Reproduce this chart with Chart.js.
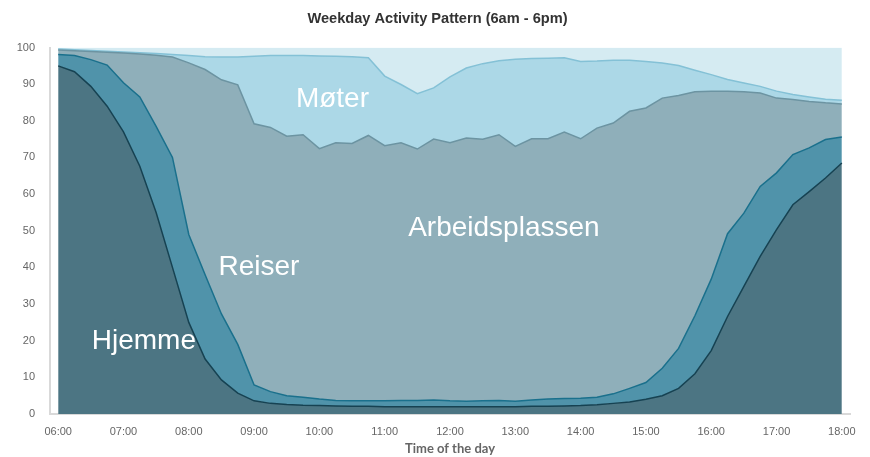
<!DOCTYPE html>
<html>
<head>
<meta charset="utf-8">
<script src="https://cdn.jsdelivr.net/npm/chart.js@4.4.1/dist/chart.umd.min.js"></script>
<style>
    html, body { margin: 0; padding: 0; background: #fff; }
    #wrap { width: 870px; height: 457px; }
</style>
</head>
<body>
<div id="wrap"><canvas id="chart" width="870" height="457"></canvas></div>
<script>
// hourly tick labels (data are every 15 minutes, 49 points)
const hourLabels = ["06:00", "07:00", "08:00", "09:00", "10:00", "11:00", "12:00",
    "13:00", "14:00", "15:00", "16:00", "17:00", "18:00"];

// share of people per activity (%), 06:00 .. 18:00 in 15 min steps
const hjemme = [95, 93.4, 89.4, 84, 77, 67.6, 55, 40, 25, 15, 9.3, 5.7, 3.6, 2.9, 2.6, 2.4, 2.3, 2.2, 2.1, 2.1,
    2.0, 2.0, 2.0, 2.0, 2.0, 2.0, 2.0, 2.0, 2.0, 2.1, 2.1, 2.2, 2.3, 2.5, 2.9, 3.3, 4.0, 5.0, 7.0, 11,
    17.3, 26.6, 34.8, 43, 50.3, 57.1, 60.7, 64.4, 68.5];

const reiser = [3.1, 4.4, 7.3, 11.2, 13.4, 18.9, 23.5, 30, 24, 23, 18, 13.3, 4.3, 3.2, 2.4, 2.2, 1.8, 1.5, 1.5, 1.5,
    1.6, 1.7, 1.7, 1.8, 1.6, 1.5, 1.6, 1.7, 1.5, 1.7, 2.0, 2.0, 2.0, 2.1, 2.6, 3.7, 4.6, 7.5, 10.9, 15.8,
    19.5, 22.6, 20, 19.1, 15.5, 13.7, 11.9, 10.5, 7.1];

const arbeidsplassen = [1.2, 1.3, 2.2, 3.5, 8.1, 11.7, 19.4, 27.4, 46.8, 56, 63.9, 70.8, 71.3, 72.1, 70.8, 71.6, 68.3, 70.3, 70.2, 72.4,
    69.6, 70.3, 68.6, 71.2, 70.4, 71.8, 71.4, 72.5, 69.5, 71.3, 71, 72.7, 70.8, 73.4, 73.9, 75.6, 74.9, 73.7, 69, 61.1,
    51.3, 38.9, 33.1, 25.5, 20.4, 15, 12.7, 10, 9];

const moter = [0.3, 0.3, 0.3, 0.3, 0.3, 0.4, 0.5, 0.7, 2.0, 3.5, 6.2, 7.6, 18.4, 19.6, 22, 21.6, 25.3, 23.6, 23.7, 21.2,
    19, 15.9, 15.1, 14, 18, 19.1, 20.6, 20.2, 23.8, 21.9, 22, 20.3, 21.1, 18.3, 17.1, 13.9, 12.7, 9.6, 8.2, 5.9,
    4.5, 3.2, 2.4, 1.8, 1.9, 1.4, 1.2, 1.0, 1.0];

const annet = [0.4, 0.6, 0.8, 1.0, 1.2, 1.4, 1.6, 1.9, 2.2, 2.5, 2.6, 2.6, 2.4, 2.2, 2.2, 2.2, 2.3, 2.4, 2.5, 2.8,
    7.8, 10.1, 12.6, 11, 8, 5.6, 4.4, 3.6, 3.2, 3.0, 2.9, 2.8, 3.8, 3.7, 3.5, 3.5, 3.8, 4.2, 4.9, 6.2,
    7.4, 8.7, 9.7, 10.6, 11.9, 12.8, 13.5, 14.1, 14.4];

// text inside the areas: [label, x (index), y (value)]
const areaLabels = [
    ["Hjemme", 5.25, 19.9],
    ["Reiser", 12.3, 39.9],
    ["Arbeidsplassen", 27.3, 50.8],
    ["Møter", 16.8, 85.8],
];

// 値をChart.js用の点に変換する
const toPoints = arr => arr.map((v, i) => ({ x: i, y: v }));

const series = [
    { label: "Hjemme", data: hjemme, bg: "rgb(76, 117, 131)", line: "rgb(22, 66, 82)", fill: "origin" },
    { label: "Reiser", data: reiser, bg: "rgb(80, 147, 170)", line: "rgb(26, 112, 140)", fill: "-1" },
    { label: "Arbeidsplassen", data: arbeidsplassen, bg: "rgb(143, 175, 186)", line: "rgb(108, 148, 162)", fill: "-1" },
    { label: "Møter", data: moter, bg: "rgb(172, 216, 231)", line: "rgb(132, 193, 214)", fill: "-1" },
    { label: "Annet", data: annet, bg: "rgb(213, 235, 242)", line: "rgba(0, 0, 0, 0)", fill: "-1" },
];

// エリア内ラベルを描くプラグイン
const areaLabelPlugin = {
    id: "areaLabels",
    afterDatasetsDraw(chart) {
        const ctx = chart.ctx;
        const xs = chart.scales.x;
        const ys = chart.scales.y;
        ctx.save();
        ctx.fillStyle = "#fff";
        ctx.font = "28px 'Liberation Sans', Arial, sans-serif";
        ctx.textAlign = "center";
        ctx.textBaseline = "middle";
        areaLabels.forEach(([text, x, y]) => {
            ctx.fillText(text, xs.getPixelForValue(x), ys.getPixelForValue(y));
        });
        ctx.restore();
    }
};

new Chart(document.getElementById("chart"), {
    type: "line",
    data: {
        datasets: series.map(s => ({
            label: s.label,
            data: toPoints(s.data),
            backgroundColor: s.bg,
            borderColor: s.line,
            borderWidth: 1.5,
            fill: s.fill,
            pointRadius: 0,
            tension: 0,
        })),
    },
    options: {
        responsive: false,
        animation: false,
        layout: { padding: { left: 5, right: 0, top: 0, bottom: 0 } },
        plugins: {
            legend: { display: false },
            tooltip: { enabled: false },
            title: {
                display: true,
                text: "Weekday Activity Pattern (6am - 6pm)",
                color: "#333",
                font: { family: "'Liberation Sans', Arial, sans-serif", size: 14.6, weight: "bold" },
                padding: { top: 10, bottom: 20 },
            },
        },
        scales: {
            x: {
                type: "linear",
                min: -0.5,
                max: 48.5,
                grid: { display: false },
                border: { display: true, color: "#d9d9d9", width: 2 },
                afterBuildTicks: axis => {
                    axis.ticks = hourLabels.map((_, k) => ({ value: k * 4 }));
                },
                afterFit: axis => {
                    axis.height = 43;
                    axis.paddingLeft = 0;
                    axis.paddingRight = 20;
                },
                ticks: {
                    autoSkip: false,
                    maxRotation: 0,
                    padding: 3,
                    color: "#666",
                    font: { family: "'Liberation Sans', Arial, sans-serif", size: 11 },
                    callback: v => hourLabels[v / 4],
                },
                title: {
                    display: true,
                    text: "Time of the day",
                    color: "#666",
                    font: { family: "Lato, sans-serif", size: 13, weight: "bold" },
                    padding: { top: 0, bottom: 0 },
                },
            },
            y: {
                stacked: true,
                min: 0,
                max: 100,
                grid: { display: false },
                border: { display: true, color: "#d9d9d9", width: 2 },
                afterFit: axis => { axis.width = 45; },
                ticks: {
                    stepSize: 10,
                    padding: 7,
                    color: "#666",
                    font: { family: "'Liberation Sans', Arial, sans-serif", size: 11 },
                },
            },
        },
    },
    plugins: [areaLabelPlugin],
});
</script>
</body>
</html>
